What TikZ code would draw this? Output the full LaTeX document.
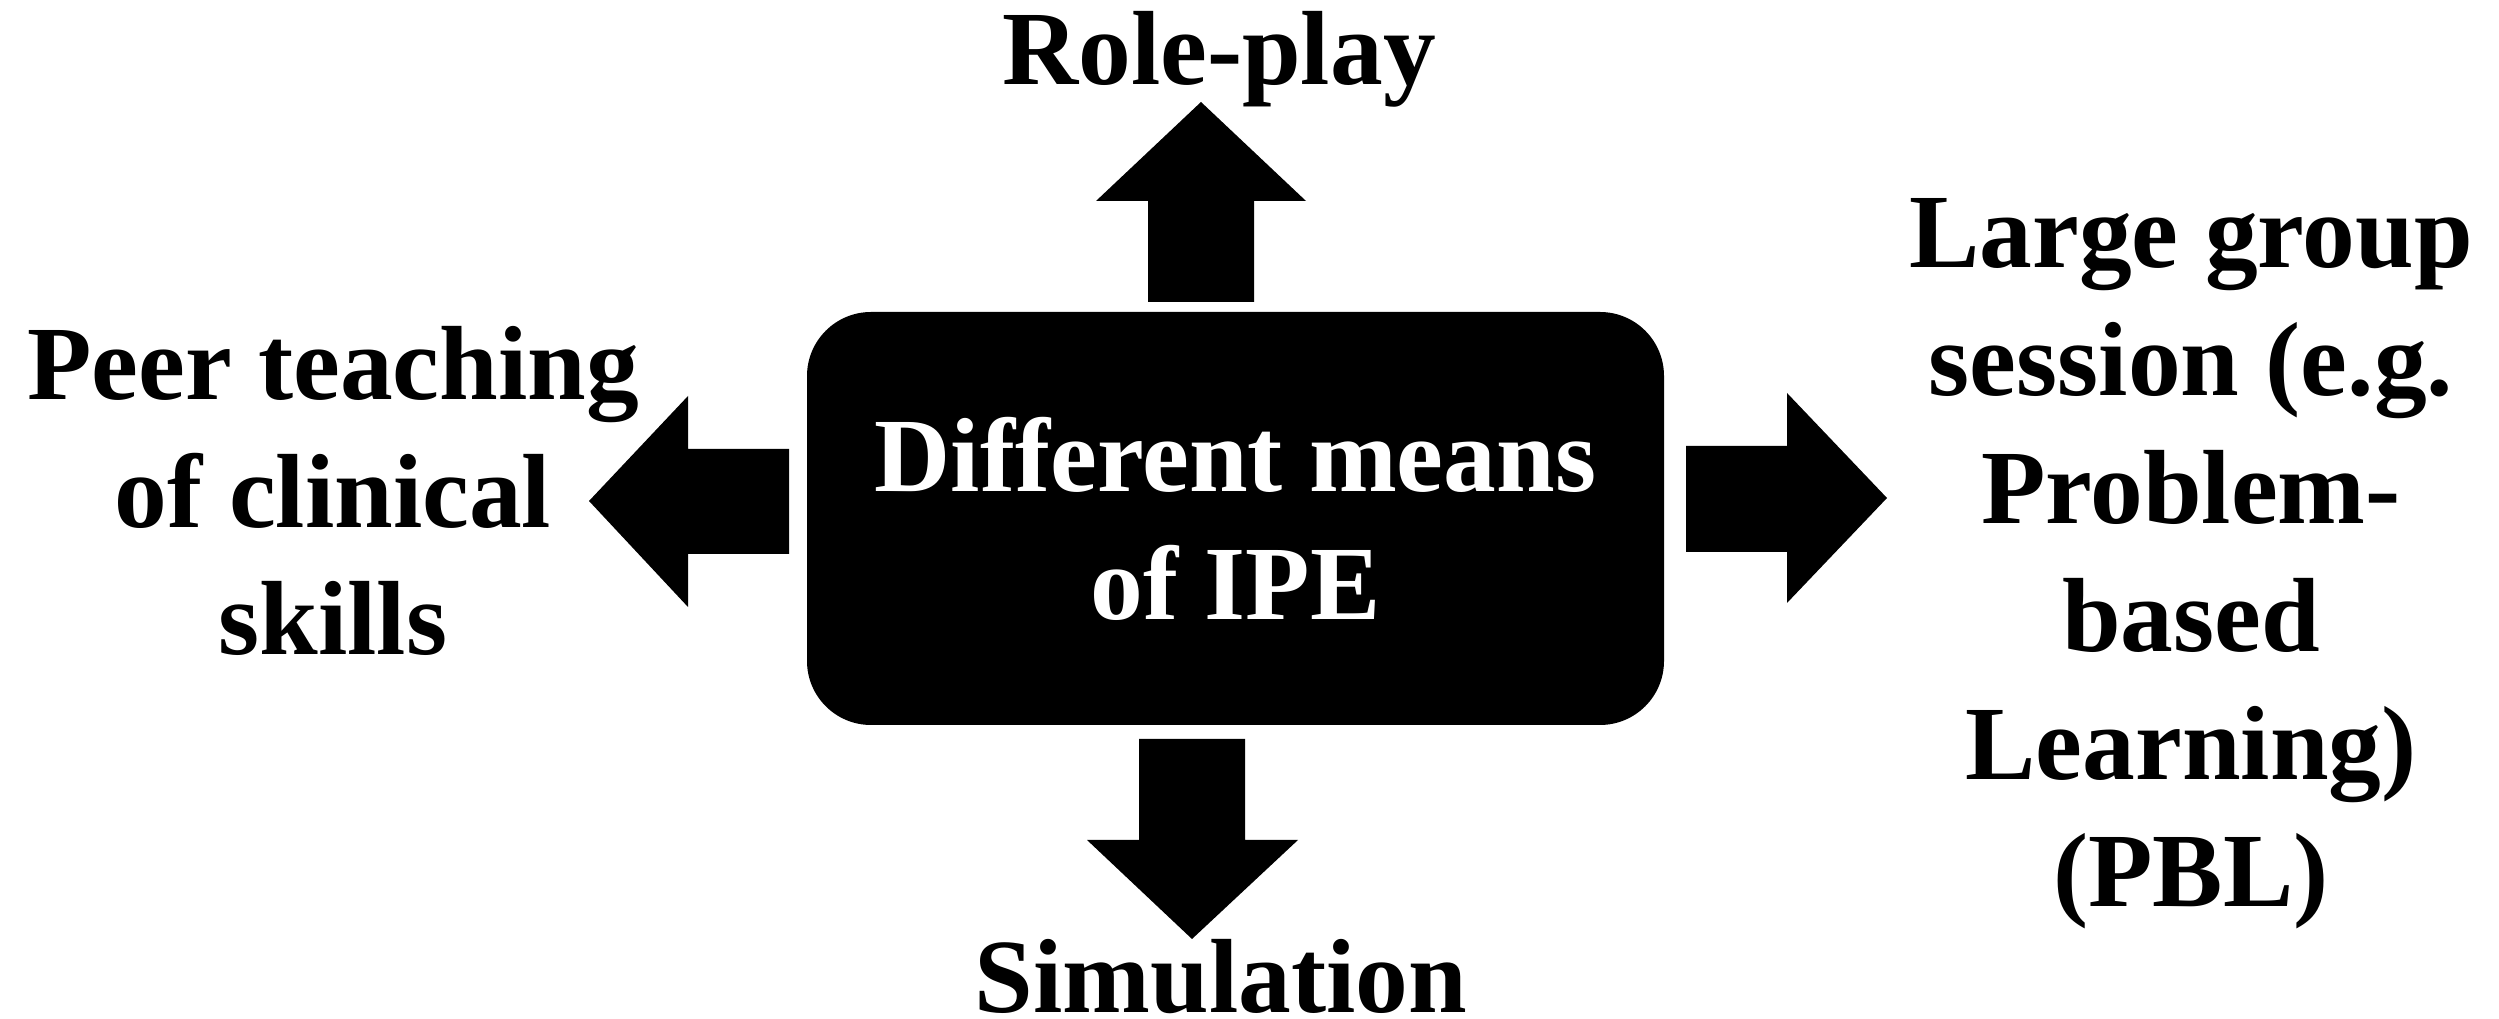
\documentclass[tikz,border=0pt]{standalone}
\usepackage{fontspec}
\setmainfont{Liberation Serif}
\tikzset{
  labeltext/.style={align=center, inner sep=0pt, anchor=base, font=\bfseries\fontsize{30}{36.4}\selectfont},
  meansbox/.style={fill=black, rounded corners=0.64cm, minimum width=8.57cm, minimum height=4.13cm, text=white, align=center, font=\bfseries\fontsize{30}{36.4}\selectfont}
}
\begin{document}
\begin{tikzpicture}
\useasboundingbox (0,0) rectangle (24.99,10.19);
% centre box
\node[meansbox] (means) at (12.355,5.005) {Different means\\of IPE};
% labels round it (base = last line)
\node[labeltext] (roleplay) at (12.19,9.34) {Role-play};
\node[labeltext] (simulation) at (12.21,0.06) {Simulation};
\node[labeltext] (peer) at (3.33,3.64) {Peer teaching\\of clinical\\skills};
\node[labeltext] (large) at (21.91,1.12) {Large group\\session (e.g.\\Problem-\\based\\Learning)\\(PBL)};
% block arrows
\fill (11.48,7.17) -- (11.48,8.18) -- (10.96,8.18) -- (12.01,9.17) -- (13.06,8.18) -- (12.54,8.18) -- (12.54,7.17) -- cycle;
\fill (11.39,2.80) -- (11.39,1.79) -- (10.87,1.79) -- (11.92,0.80) -- (12.98,1.79) -- (12.45,1.79) -- (12.45,2.80) -- cycle;
\fill (7.89,5.70) -- (6.88,5.70) -- (6.88,6.23) -- (5.89,5.18) -- (6.88,4.12) -- (6.88,4.65) -- (7.89,4.65) -- cycle;
\fill (16.86,5.73) -- (17.87,5.73) -- (17.87,6.26) -- (18.87,5.21) -- (17.87,4.16) -- (17.87,4.67) -- (16.86,4.67) -- cycle;
\end{tikzpicture}
\end{document}
